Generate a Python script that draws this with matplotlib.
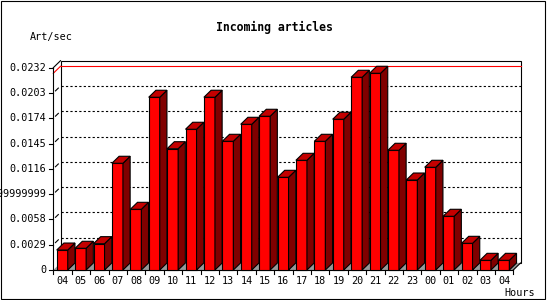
import numpy as np
import matplotlib.pyplot as plt
from matplotlib.patches import Polygon, Rectangle

hours = ['04', '05', '06', '07', '08', '09', '10', '11', '12', '13', '14', '15', '16',
         '17', '18', '19', '20', '21', '22', '23', '00', '01', '02', '03', '04']
rates = [0.00229, 0.00249, 0.00302, 0.01224, 0.00696, 0.01981, 0.01391, 0.01614,
         0.01981, 0.01476, 0.01671, 0.01763, 0.01063, 0.01258, 0.01476, 0.01729,
         0.0221, 0.02256, 0.01373, 0.01032, 0.01178, 0.00616, 0.00306, 0.00111, 0.00111]
yticks = [0, 0.0029, 0.0058, 0.0087, 0.0116, 0.0145, 0.0174, 0.0203, 0.0232]
ylabels = ['0', '0.0029', '0.0058', '0.0086999999999', '0.0116', '0.0145',
           '0.0174', '0.0203', '0.0232']
ymax = 0.0232

W, H = 550, 300
slot_px = 18.4
x0_px = 53.3
y0_px = 30.0           # from bottom
val_px = 202.3 / ymax  # pixels per unit value

fig = plt.figure(figsize=(W / 100, H / 100), dpi=100)
ax = fig.add_axes([0, 0, 1, 1])
ax.set_xlim(-x0_px / slot_px, (W - x0_px) / slot_px)
ax.set_ylim(-y0_px / val_px, (H - y0_px) / val_px)
ax.axis('off')

n = len(rates)
dx = 7.2 / slot_px
dy = 7.0 / val_px
px = 1.0 / val_px
lw = 0.8
mono = 'DejaVu Sans Mono'

# back wall
ax.add_patch(Rectangle((dx, dy), n, ymax, facecolor='white', edgecolor='black', lw=lw, zorder=1))
for t in yticks[1:-1]:
    ax.plot([dx, n + dx], [t + dy, t + dy], color='black', lw=lw, ls=(0, (2, 2)), zorder=2)
    ax.plot([0.3 * dx, 0.7 * dx], [t + 0.3 * dy, t + 0.7 * dy], color='black', lw=lw, zorder=2)

# max line
vmax = max(rates)
ax.plot([dx, n + dx], [vmax + dy, vmax + dy], color='red', lw=lw, zorder=2)
ax.plot([0, dx], [vmax, vmax + dy], color='red', lw=lw, zorder=2)

# floor
ax.add_patch(Polygon([(0, 0), (n, 0), (n + dx, dy), (dx, dy)], closed=True,
                     facecolor='#999999', edgecolor='none', zorder=2))

# side wall edges
ax.plot([0, 0], [0, ymax], color='black', lw=lw, zorder=3)
ax.plot([0, dx], [ymax, ymax + dy], color='black', lw=lw, zorder=3)
ax.plot([0, n], [0, 0], color='black', lw=lw, zorder=3)
ax.plot([n, n + dx], [0, dy], color='black', lw=lw, zorder=3)

# bars
off, bw = 0.185, 0.6
for i, v in enumerate(rates):
    l = i + off
    r = l + bw
    ax.add_patch(Polygon([(l, 0), (r, 0), (r, v), (l, v)], closed=True,
                         facecolor='#ff0000', edgecolor='black', lw=lw, zorder=4))
    ax.add_patch(Polygon([(r, 0), (r + dx, dy), (r + dx, v + dy), (r, v)], closed=True,
                         facecolor='#800000', edgecolor='black', lw=lw, zorder=4))
    ax.add_patch(Polygon([(l, v), (r, v), (r + dx, v + dy), (l + dx, v + dy)], closed=True,
                         facecolor='#c40000', edgecolor='black', lw=lw, zorder=4))

# y ticks
for t, lab in zip(yticks, ylabels):
    ax.plot([-4.5 / slot_px, 0], [t, t], color='black', lw=lw, zorder=3)
    ax.text(-6.8 / slot_px, t, lab, ha='right', va='center', fontsize=7.3,
            family=mono, zorder=5)

# x ticks
for s in range(n + 1):
    ax.plot([s, s], [0, -4 * px], color='black', lw=lw, zorder=3)
for i, lab in enumerate(hours):
    ax.text(i + 0.5, -10.5 * px, lab, ha='center', va='center', fontsize=7.3,
            family=mono, zorder=5)

fig.text(274 / W, 1 - 27 / H, 'Incoming articles', ha='center', va='center',
         fontsize=8.3, fontweight='bold', family=mono)
fig.text(30 / W, 1 - 37 / H, 'Art/sec', ha='left', va='center', fontsize=7.3, family=mono)
fig.text(504 / W, 1 - 293 / H, 'Hours', ha='left', va='center', fontsize=7.3, family=mono)

fig.patches.append(Rectangle((0.5 / W, 1.0 / H), 544 / W, 298.5 / H, fill=False,
                             edgecolor='black', lw=lw, transform=fig.transFigure))

fig.savefig('out.png', dpi=100)
